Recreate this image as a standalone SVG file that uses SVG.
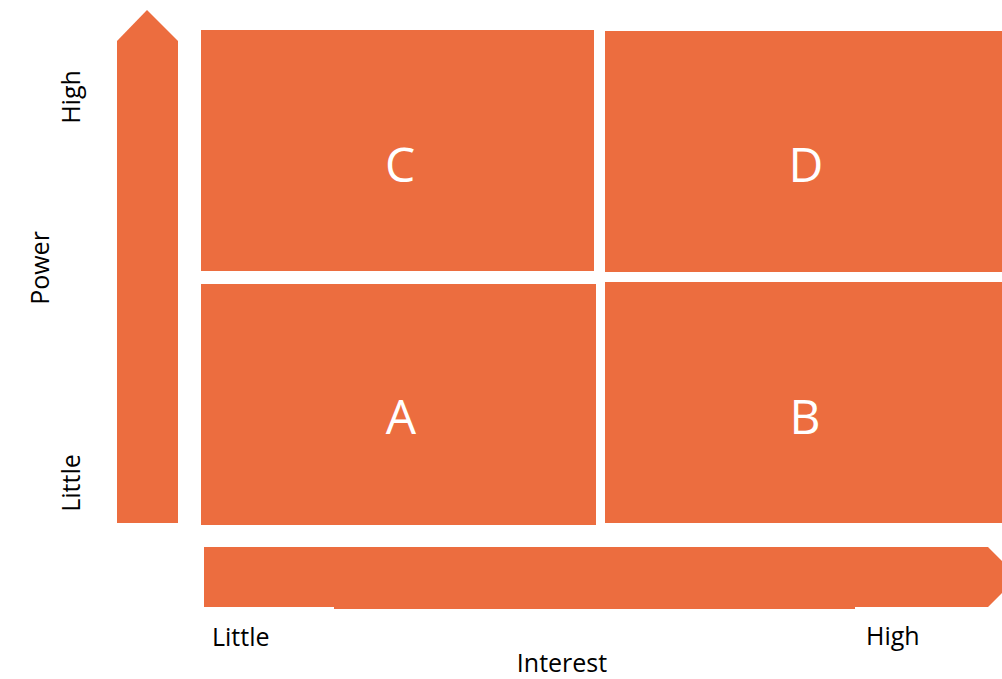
<svg xmlns="http://www.w3.org/2000/svg" width="1002" height="679" viewBox="0 0 1002 679">
<style>
.f{fill:#EC6D3F}
.q{font-family:"Open Sans","Liberation Sans",sans-serif;font-size:48px;fill:#fff;text-anchor:middle;dominant-baseline:central}
.l{font-family:"Open Sans","Liberation Sans",sans-serif;font-size:25px;fill:#000}
</style>
<rect width="1002" height="679" fill="#fff"/>
<g id="axis-power">
<polygon class="f" points="117,41 147,10 178,41 178,523 117,523"/>
</g>
<g id="axis-interest">
<polygon class="f" points="204,547 988,547 1018,577 988,607 855,607 855,609 334,609 334,607 204,607"/>
</g>
<g id="node-C"><rect class="f" x="201" y="30" width="393" height="241"/><text class="q" x="400" y="163">C</text></g>
<g id="node-D"><rect class="f" x="605" y="31" width="397" height="241"/><text class="q" x="806" y="163">D</text></g>
<g id="node-A"><rect class="f" x="201" y="284" width="395" height="241"/><text class="q" x="401" y="415">A</text></g>
<g id="node-B"><rect class="f" x="605" y="282" width="397" height="241"/><text class="q" x="805" y="415">B</text></g>
<g id="labels">
<text class="l" x="212" y="646">Little</text>
<text class="l" x="866" y="645">High</text>
<text class="l" x="562" y="672" text-anchor="middle">Interest</text>
<text class="l" transform="translate(80,97) rotate(-90)" text-anchor="middle">High</text>
<text class="l" transform="translate(49,268) rotate(-90)" text-anchor="middle">Power</text>
<text class="l" transform="translate(80,483) rotate(-90)" text-anchor="middle">Little</text>
</g>
<g id="connectors"></g>
</svg>
